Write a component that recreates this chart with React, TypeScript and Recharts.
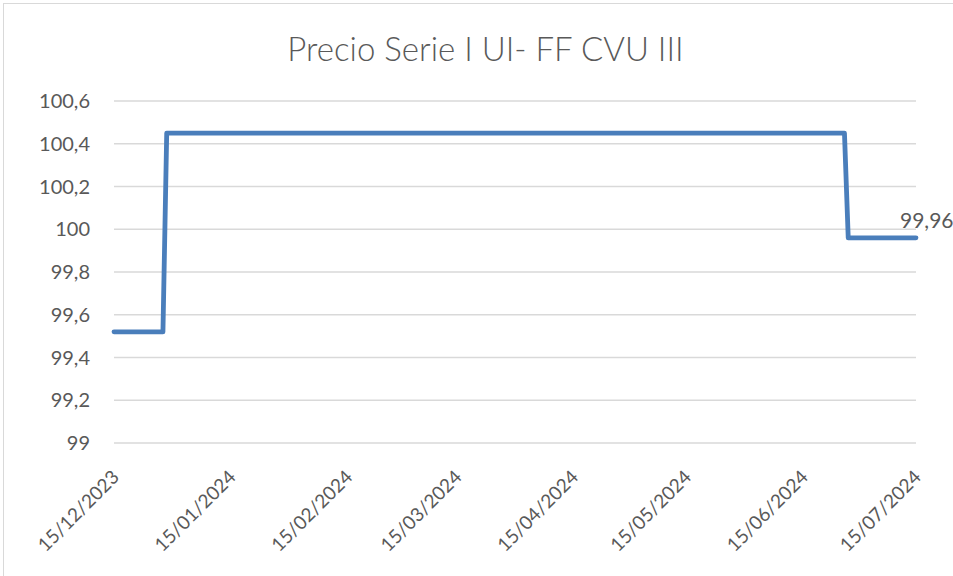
import React from "react";
import { LineChart, Line, XAxis, YAxis, CartesianGrid, LabelList } from "recharts";

const TITLE = "Precio Serie I UI- FF CVU III";

// observation dates (dd/mm/yyyy) and prices
const obsDates = ["15/12/2023", "28/12/2023", "29/12/2023", "26/06/2024", "27/06/2024", "15/07/2024"];
const obsPrices = [99.52, 99.52, 100.45, 100.45, 99.96, 99.96];

const xTickLabels = [
  "15/12/2023",
  "15/01/2024",
  "15/02/2024",
  "15/03/2024",
  "15/04/2024",
  "15/05/2024",
  "15/06/2024",
  "15/07/2024",
];
const yTicks = [99, 99.2, 99.4, 99.6, 99.8, 100, 100.2, 100.4, 100.6];

const toTs = (s: string) => {
  const [d, m, y] = s.split("/").map(Number);
  return Date.UTC(y, m - 1, d);
};
const fmtTs = (t: number) => {
  const d = new Date(t);
  const dd = String(d.getUTCDate()).padStart(2, "0");
  const mm = String(d.getUTCMonth() + 1).padStart(2, "0");
  return `${dd}/${mm}/${d.getUTCFullYear()}`;
};
const fmtNum = (v: number) => String(Number(v.toFixed(2))).replace(".", ",");

const data = obsDates.map((d, i) => ({ t: toTs(d), price: obsPrices[i] }));
const xTicks = xTickLabels.map(toTs);

const FONT = "Lato, 'Open Sans', sans-serif";
const TXT = "#595959";

const XTick = (props: any) => {
  const { x, y, payload } = props;
  const ax = x + 1;
  const ay = y + 22;
  return (
    <text
      x={ax}
      y={ay}
      transform={`rotate(-45 ${ax} ${ay})`}
      textAnchor="end"
      fill={TXT}
      fontSize={19}
      fontFamily={FONT}
      dominantBaseline="central"
    >
      {fmtTs(payload.value)}
    </text>
  );
};

const EndLabel = (props: any) => {
  const { x, y, value, index } = props;
  if (index !== obsPrices.length - 1) return null;
  return (
    <text x={x - 16} y={y - 18} fill={TXT} fontSize={21} fontFamily={FONT} dominantBaseline="central">
      {fmtNum(value)}
    </text>
  );
};

export default function App() {
  return (
    <div style={{ position: "absolute", left: 0, top: 0, width: 953, height: 576, background: "#fff", overflow: "hidden" }}>
      <div
        style={{
          position: "absolute",
          left: 3,
          top: 3,
          width: 960,
          height: 580,
          borderLeft: "1.5px solid #d9d9d9",
          borderTop: "1.5px solid #d9d9d9",
        }}
      />
      <div
        style={{
          position: "absolute",
          left: 0,
          width: 971,
          top: 25,
          textAlign: "center",
          fontFamily: FONT,
          fontWeight: 300,
          fontSize: 33,
          color: TXT,
          lineHeight: "46px",
        }}
      >
        {TITLE}
      </div>
      <LineChart width={953} height={576} data={data} margin={{ top: 101, right: 37, bottom: 0, left: 0 }}>
        <CartesianGrid horizontal vertical={false} stroke="#d9d9d9" strokeWidth={1.4} />
        <XAxis
          dataKey="t"
          type="number"
          domain={[xTicks[0], xTicks[xTicks.length - 1]]}
          ticks={xTicks}
          tick={<XTick />}
          axisLine={false}
          tickLine={false}
          height={133}
          interval={0}
        />
        <YAxis
          type="number"
          domain={[99, 100.6]}
          ticks={yTicks}
          tickFormatter={fmtNum}
          width={114}
          axisLine={false}
          tickLine={false}
          tickSize={0}
          tickMargin={24}
          interval={0}
          tick={{ fill: TXT, fontSize: 20, fontFamily: FONT }}
        />
        <Line
          type="linear"
          dataKey="price"
          stroke="#4A7EBB"
          strokeWidth={4.8}
          dot={false}
          strokeLinecap="round"
          strokeLinejoin="round"
          isAnimationActive={false}
        >
          <LabelList dataKey="price" content={<EndLabel />} />
        </Line>
      </LineChart>
    </div>
  );
}
